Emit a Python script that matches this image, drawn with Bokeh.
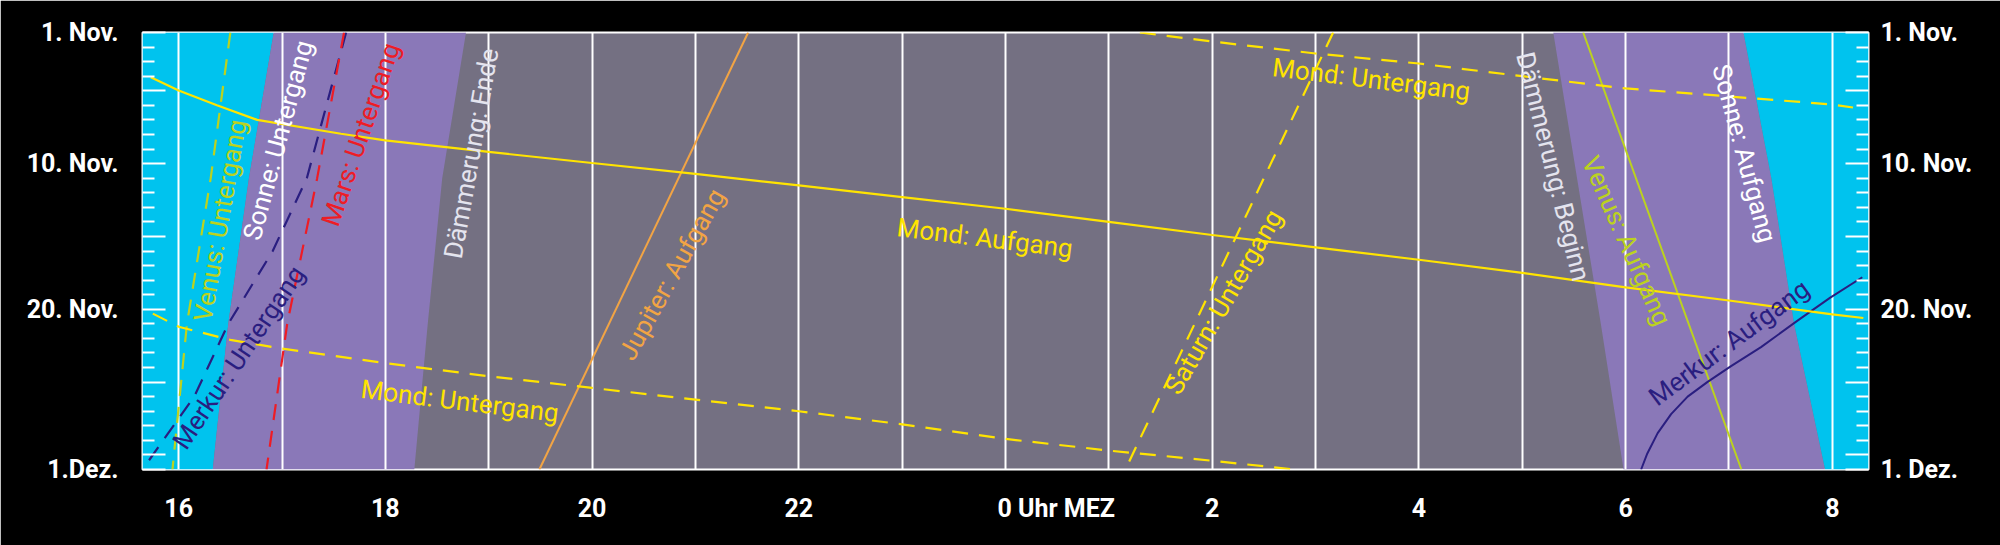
from bokeh.plotting import figure
from bokeh.models import Range1d, FixedTicker, LinearAxis
from bokeh.core.properties import value
from bokeh.embed import file_html
from bokeh.resources import INLINE

# ---- axis data ----
x_start, x_end = 15.65, 32.35          # hours (24 = midnight)
x_ticks = [16, 18, 20, 22, 24, 26, 28, 30, 32]
x_labels = ["16", "18", "20", "22", "0 Uhr MEZ", "2", "4", "6", "8"]
y_major = [0, 4, 9, 14, 19, 24, 29, 30]   # days after 1 Nov
y_labels_left = ["1. Nov.", "", "10. Nov.", "", "20. Nov.", "", "", "1.Dez."]
y_labels_right = ["1. Nov.", "", "10. Nov.", "", "20. Nov.", "", "", "1. Dez."]

# ---- sun / twilight boundaries (day index, hour) ----
days4 = [0, 10, 20, 30]
sunset = [16.92, 16.68, 16.48, 16.33]
dusk_end = [18.78, 18.55, 18.41, 18.28]
dawn_begin = [29.30, 29.53, 29.76, 29.98]
sunrise = [31.14, 31.41, 31.63, 31.93]

# ---- planets ----
venus_set_d = [0, 10, 20, 30]
venus_set_h = [16.50, 16.31, 16.08, 15.94]
mars_set_d = [0, 10, 20, 30]
mars_set_h = [17.60, 17.34, 17.05, 16.85]
merc_set_d = [0, 5, 10, 15, 20, 25, 29.5]
merc_set_h = [17.62, 17.43, 17.24, 16.91, 16.48, 16.15, 15.70]
jup_rise_d = [0, 30]
jup_rise_h = [21.51, 19.49]
sat_set_d = [0, 30]
sat_set_h = [27.17, 25.16]
venus_rise_d = [0, 30]
venus_rise_h = [29.59, 31.12]
merc_rise_d = [16.8, 18.2, 19.8, 21.6, 22.9, 24.0, 25.0, 26.2, 27.5, 28.9, 30.0]
merc_rise_h = [32.29, 31.98, 31.66, 31.31, 31.02, 30.79, 30.60, 30.44, 30.31, 30.21, 30.15]

# ---- moon ----
moon_rise_h = [15.73, 16.0, 16.37, 16.76, 17.57, 18, 19, 20, 21, 22, 23, 24, 25, 26, 27, 28, 29, 30, 31, 32, 32.3]
moon_rise_d = [3.07, 3.98, 5.0, 6.0, 6.95, 7.4, 8.2, 8.96, 9.7, 10.5, 11.3, 12.1, 13.0, 13.9, 14.75, 15.6, 16.5, 17.5, 18.4, 19.35, 19.6]
moon_set1_h = [25.3, 26, 27, 28, 29, 30, 31, 32, 32.2]
moon_set1_d = [0.0, 0.62, 1.44, 2.13, 3.0, 3.84, 4.39, 4.94, 5.15]
moon_set2_h = [15.75, 16.0, 16.5, 17, 18, 19, 20, 21, 22, 23, 24, 25, 26, 26.8]
moon_set2_d = [19.3, 20.2, 21.1, 21.7, 22.7, 23.6, 24.4, 25.2, 26.0, 26.9, 27.9, 28.7, 29.4, 30.0]

# ---- colours ----
C_DAY = "#00C3EE"
C_TWI = "#8A78B8"
C_NIGHT = "#747082"
C_MOON = "#FFE400"
C_VENUS = "#BCD21E"
C_MARS = "#EE1C25"
C_MERC = "#2A1E80"
C_JUP = "#F2A444"

p = figure(width=2000, height=545, x_range=Range1d(x_start, x_end), y_range=Range1d(30, 0),
           output_backend="svg", toolbar_location=None,
           min_border_left=142, min_border_right=132, min_border_top=32, min_border_bottom=76)
p.background_fill_color = C_NIGHT
p.border_fill_color = "black"
p.outline_line_color = "white"
p.outline_line_width = 2

# regions
p.harea(x1=[x_start] * len(days4), x2=sunset, y=days4, fill_color=C_DAY, level="image")
p.harea(x1=sunset, x2=dusk_end, y=days4, fill_color=C_TWI, level="image")
p.harea(x1=dawn_begin, x2=sunrise, y=days4, fill_color=C_TWI, level="image")
p.harea(x1=sunrise, x2=[x_end] * len(days4), y=days4, fill_color=C_DAY, level="image")

# grid
p.ygrid.visible = False
p.xgrid.ticker = FixedTicker(ticks=list(range(16, 33)))
p.xgrid.grid_line_color = "white"
p.xgrid.grid_line_width = 2
p.xgrid.grid_line_alpha = 1

DASH = "16 11"
p.line(venus_set_h, venus_set_d, line_color=C_VENUS, line_width=2.2, line_dash=DASH)
p.line(merc_set_h, merc_set_d, line_color=C_MERC, line_width=2.2, line_dash=DASH)
p.line(mars_set_h, mars_set_d, line_color=C_MARS, line_width=2.2, line_dash=DASH)
p.line(jup_rise_h, jup_rise_d, line_color=C_JUP, line_width=2)
p.line(sat_set_h, sat_set_d, line_color=C_MOON, line_width=2.2, line_dash=DASH)
p.line(venus_rise_h, venus_rise_d, line_color=C_VENUS, line_width=2)
p.line(merc_rise_h, merc_rise_d, line_color=C_MERC, line_width=2)
p.line(moon_rise_h, moon_rise_d, line_color=C_MOON, line_width=2.2)
p.line(moon_set1_h, moon_set1_d, line_color=C_MOON, line_width=2.2, line_dash=DASH)
p.line(moon_set2_h, moon_set2_d, line_color=C_MOON, line_width=2.2, line_dash=DASH)

# curve labels
lab_text = ["Venus: Untergang", "Sonne: Untergang", "Mars: Untergang", "Merkur: Untergang",
            "Dämmerung: Ende", "Jupiter: Aufgang", "Mond: Aufgang", "Mond: Untergang",
            "Mond: Untergang", "Saturn: Untergang", "Dämmerung: Beginn", "Venus: Aufgang",
            "Sonne: Aufgang", "Merkur: Aufgang"]
lab_x = [16.40, 16.96, 17.76, 16.58, 18.83, 20.77, 23.8, 18.72, 27.54, 26.11, 29.30, 30.01, 31.15, 31.0]
lab_y = [12.9, 7.4, 7.0, 22.3, 8.3, 16.6, 14.1, 25.3, 3.2, 18.5, 9.2, 14.3, 8.3, 21.3]
lab_a = [80, 75, 71, 56, 80, 61, -7, -7, -7, 60, -76, -66, -75, 36.5]
lab_c = [C_VENUS, "white", C_MARS, C_MERC, "#E4E4EE", C_JUP, C_MOON, C_MOON, C_MOON, C_MOON,
         "#E4E4EE", C_VENUS, "white", C_MERC]
p.text(x=lab_x, y=lab_y, text=lab_text, angle=lab_a, angle_units="deg", text_color=lab_c,
       text_font=value("Roboto"), text_font_size="26px", text_align="center",
       text_baseline="middle")

# x axis ("0 Uhr MEZ" is placed so that its "0" sits on the midnight line)
MEZ_SHIFT = 0.49
tick_pos = [t + (MEZ_SHIFT if l == "0 Uhr MEZ" else 0) for t, l in zip(x_ticks, x_labels)]
xa = p.xaxis[0]
xa.ticker = FixedTicker(ticks=tick_pos)
xa.major_label_overrides = {t: l for t, l in zip(tick_pos, x_labels)}
xa.axis_line_color = None
xa.major_tick_line_color = None
xa.minor_tick_line_color = None
xa.major_label_text_color = "white"
xa.major_label_text_font = "Roboto"
xa.major_label_text_font_style = "bold"
xa.major_label_text_font_size = "25px"
xa.major_label_standoff = 18

minor_days = [d for d in range(0, 31) if d not in y_major]


def style_y(ax, labels, standoff):
    ax.ticker = FixedTicker(ticks=y_major, minor_ticks=minor_days)
    ax.major_label_overrides = {t: l for t, l in zip(y_major, labels)}
    ax.axis_line_color = None
    ax.major_tick_in = 23
    ax.major_tick_out = 0
    ax.minor_tick_in = 12
    ax.minor_tick_out = 0
    ax.major_tick_line_color = "white"
    ax.minor_tick_line_color = "white"
    ax.major_tick_line_width = 2
    ax.minor_tick_line_width = 2
    ax.major_label_text_color = "white"
    ax.major_label_text_font = "Roboto"
    ax.major_label_text_font_style = "bold"
    ax.major_label_text_font_size = "25px"
    ax.major_label_standoff = standoff


style_y(p.yaxis[0], y_labels_left, 24)
ra = LinearAxis()
p.add_layout(ra, "right")
style_y(ra, y_labels_right, 12)

open("out.html", "w").write(file_html(p, INLINE))
